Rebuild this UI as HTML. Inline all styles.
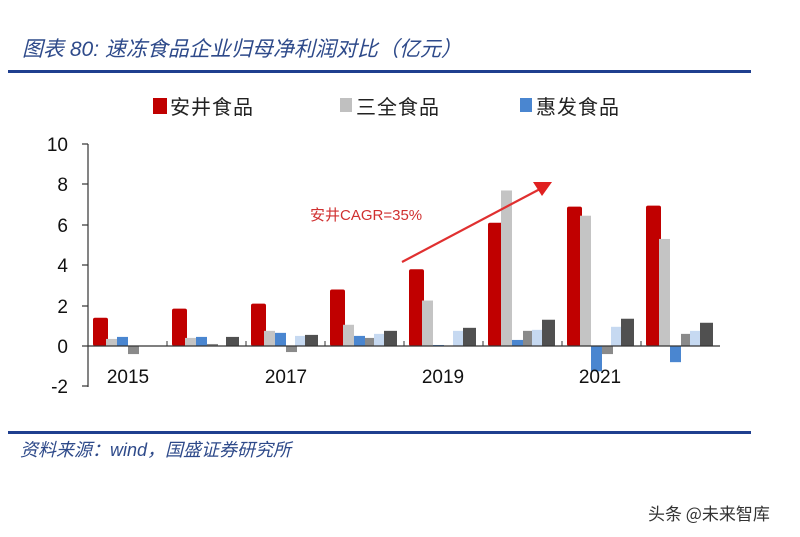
<!DOCTYPE html>
<html><head><meta charset="utf-8"><style>
body{margin:0;background:#fff;width:800px;height:537px;overflow:hidden;font-family:"Liberation Sans","Noto Sans CJK SC",sans-serif}
</style></head><body>
<svg id="s" width="800" height="537" xmlns="http://www.w3.org/2000/svg" style="position:absolute;left:0;top:0">
<text x="22" y="56" font-size="21" font-style="italic" fill="#2e4a8a" font-family="Liberation Sans,Noto Sans CJK SC,sans-serif">图表 80:  速冻食品企业归母净利润对比（亿元）</text>
<rect x="8" y="70" width="743" height="3" fill="#1f3f8f"/>
<rect x="153" y="98" width="14" height="16" fill="#c00000"/>
<text x="170" y="114" font-size="20" fill="#222" font-family="Noto Sans CJK SC,sans-serif" letter-spacing="1">安井食品</text>
<rect x="340" y="98" width="12" height="14" fill="#c0c0c0"/>
<text x="356" y="114" font-size="20" fill="#222" font-family="Noto Sans CJK SC,sans-serif" letter-spacing="1">三全食品</text>
<rect x="520" y="98" width="12" height="14" fill="#4a86d0"/>
<text x="536" y="114" font-size="20" fill="#222" font-family="Noto Sans CJK SC,sans-serif" letter-spacing="1">惠发食品</text>
<g id="bars"></g>
<line x1="88" y1="144" x2="88" y2="387" stroke="#333" stroke-width="1.2"/>
<g stroke="#333" stroke-width="1.2">
<line x1="82" y1="144" x2="88" y2="144"/><line x1="82" y1="184" x2="88" y2="184"/><line x1="82" y1="225" x2="88" y2="225"/><line x1="82" y1="265" x2="88" y2="265"/><line x1="82" y1="306" x2="88" y2="306"/><line x1="82" y1="346" x2="88" y2="346"/><line x1="82" y1="386" x2="88" y2="386"/>
</g>
<g font-size="19" fill="#111" text-anchor="end">
<text x="68" y="151">10</text><text x="68" y="191">8</text><text x="68" y="232">6</text><text x="68" y="272">4</text><text x="68" y="313">2</text><text x="68" y="353">0</text><text x="68" y="393">-2</text>
</g>
<g font-size="19" fill="#111" text-anchor="middle">
<text x="128" y="383">2015</text><text x="286" y="383">2017</text><text x="443" y="383">2019</text><text x="600" y="383">2021</text>
</g>
<line x1="402" y1="262" x2="540" y2="189" stroke="#e03030" stroke-width="2.2"/>
<polygon points="552,182 533,182 542,196" fill="#e02020"/>
<text x="310" y="220" font-size="15" fill="#d03030" font-family="Liberation Sans,Noto Sans CJK SC,sans-serif">安井CAGR=35%</text>
<rect x="8" y="431" width="743" height="3" fill="#1f3f8f"/>
<text x="20" y="456" font-size="18" font-style="italic" fill="#2e4a8a" font-family="Liberation Sans,Noto Sans CJK SC,sans-serif">资料来源：wind，国盛证券研究所</text>
<text x="648" y="520" font-size="17" fill="#333" font-family="Noto Sans CJK SC,sans-serif">头条 @未来智库</text>
</svg>
<script>
var d=[[1.4,.35,.45,-.4,0,0],[1.85,.4,.45,.1,0,.45],[2.1,.75,.65,-.3,.5,.55],[2.8,1.05,.5,.4,.6,.75],[3.8,2.25,.05,0,.75,.9],[6.1,7.7,.3,.75,.8,1.3],[6.9,6.45,-1.25,-.4,.95,1.35],[6.95,5.3,-.8,.6,.75,1.15]];
var off=[5,18,29,40,49,59],w=[15,11,11,11,11,13],c=["#c00000","#c4c4c4","#4a86d0","#8a8a8a","#c6d9f1","#505050"];
var h="";
for(var i=0;i<8;i++){var gx=88+79*i;
for(var k=0;k<6;k++){var v=d[i][k];if(!v)continue;var y0=346,y1=346-20.2*v;
h+='<rect x="'+(gx+off[k])+'" y="'+Math.min(y0,y1)+'" width="'+w[k]+'" height="'+Math.abs(y1-y0)+'" fill="'+c[k]+'"'+(k==0?' rx="2"':'')+'/>';}
if(i>0)h+='<line x1="'+gx+'" y1="341" x2="'+gx+'" y2="346" stroke="#333"/>';}
h+='<line x1="88" y1="346" x2="720" y2="346" stroke="#333" stroke-width="1.2"/>';
document.getElementById("bars").innerHTML=h;
</script>
</body></html>
